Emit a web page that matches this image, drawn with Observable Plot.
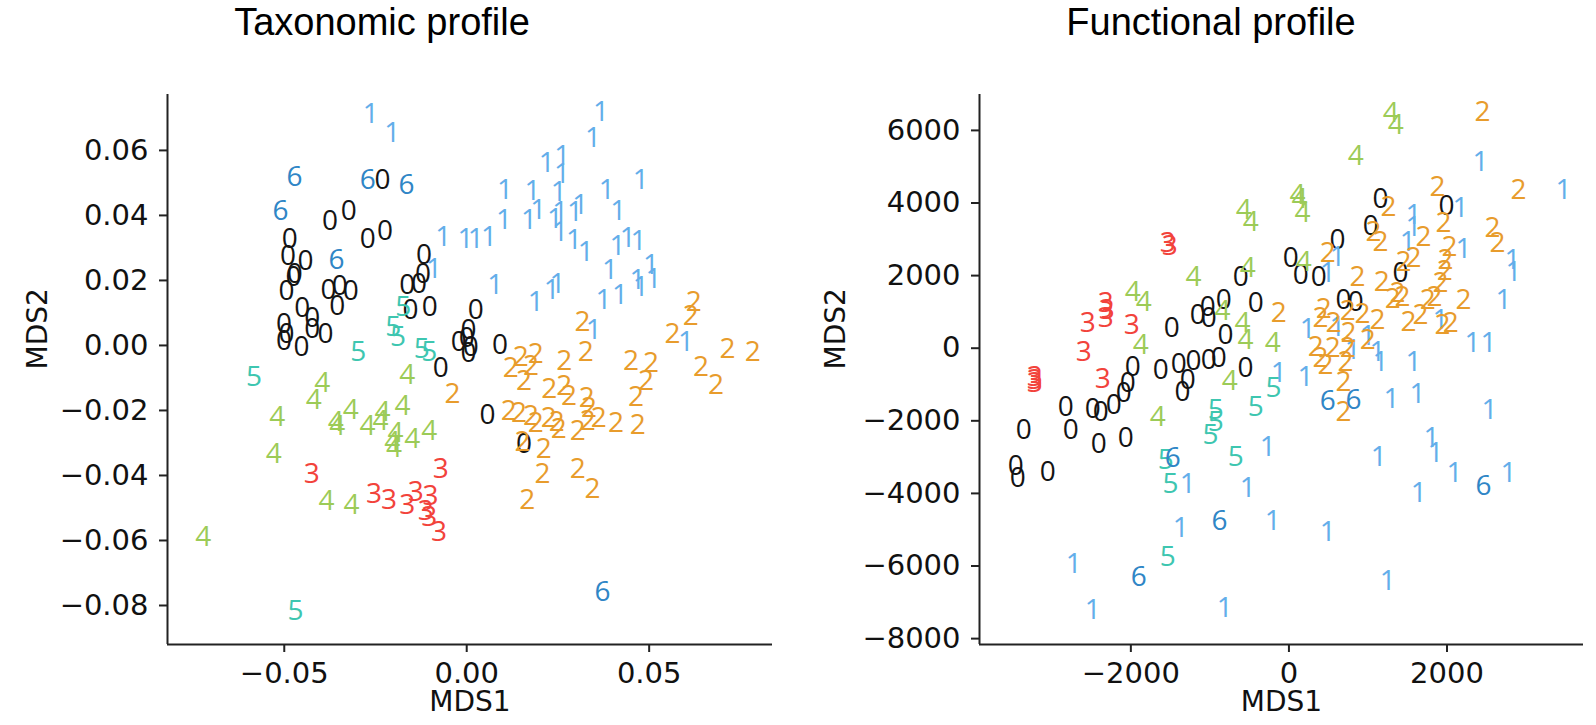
<!DOCTYPE html>
<html><head><meta charset="utf-8">
<script src="https://cdn.jsdelivr.net/npm/d3@7"></script>
<script src="https://cdn.jsdelivr.net/npm/@observablehq/plot@0.6"></script>
<style>
body{margin:0;background:#fff;}
#fig{position:relative;width:1596px;height:725px;overflow:hidden;background:#fff;}
.panel{position:absolute;top:0;}
.title{position:absolute;font-family:"Liberation Sans",Arial,sans-serif;font-size:38px;color:#000;white-space:nowrap;transform:translateX(-50%);line-height:normal;}
</style></head><body>
<div id="fig">
<div class="title" style="left:382px;top:1px">Taxonomic profile</div>
<div class="title" style="left:1211px;top:1px">Functional profile</div>
<div class="panel" id="left" style="left:0px"></div>
<div class="panel" id="right" style="left:800px"></div>
</div>
<script>
// Cluster categories and colours
const categories = ["0", "1", "2", "3", "4", "5", "6"];
const palette = ["#141414", "#63aeea", "#e89c2c", "#f2433b", "#9ccb57", "#3ec6b0", "#2f86c6"];

// Taxonomic profile: [MDS1, MDS2] per cluster
const taxo0 = [[-0.0231,0.0510],[-0.0375,0.0382],[-0.0323,0.0413],[-0.0271,0.0328],[-0.0224,0.0351],[-0.0485,0.0328],[-0.0490,0.0275],[-0.0442,0.0259],[-0.0471,0.0221],[-0.0475,0.0212],[-0.0494,0.0167],[-0.0379,0.0169],[-0.0348,0.0182],[-0.0318,0.0167],[-0.0355,0.0120],[-0.0451,0.0115],[-0.0423,0.0084],[-0.0423,0.0051],[-0.0387,0.0036],[-0.0501,0.0067],[-0.0494,0.0034],[-0.0501,0.0015],[-0.0453,-0.0005],[-0.0117,0.0277],[-0.0120,0.0221],[-0.0131,0.0190],[-0.0163,0.0185],[-0.0154,0.0110],[-0.0101,0.0118],[-0.0071,-0.0071],[0.0025,0.0108],[0.0005,0.0046],[-0.0022,0.0009],[0.0000,0.0022],[0.0011,-0.0006],[0.0005,-0.0022],[0.0091,0.0000],[0.0057,-0.0215],[0.0157,-0.0302]];
const taxo1 = [[-0.0263,0.0713],[-0.0204,0.0653],[0.0368,0.0718],[0.0346,0.0639],[0.0219,0.0561],[0.0262,0.0582],[0.0261,0.0528],[0.0105,0.0477],[0.0180,0.0474],[0.0252,0.0472],[0.0384,0.0477],[0.0477,0.0508],[0.0102,0.0385],[0.0171,0.0387],[0.0196,0.0418],[0.0242,0.0390],[0.0256,0.0410],[0.0256,0.0349],[0.0297,0.0410],[0.0311,0.0431],[0.0415,0.0415],[0.0294,0.0323],[0.0326,0.0287],[-0.0064,0.0335],[-0.0003,0.0328],[0.0025,0.0328],[0.0061,0.0335],[-0.0090,0.0236],[0.0413,0.0305],[0.0441,0.0330],[0.0471,0.0320],[0.0393,0.0233],[0.0078,0.0185],[0.0189,0.0133],[0.0233,0.0169],[0.0249,0.0190],[0.0375,0.0141],[0.0420,0.0154],[0.0468,0.0200],[0.0477,0.0179],[0.0505,0.0246],[0.0512,0.0205],[0.0348,0.0048],[0.0601,0.0010]];
const taxo2 = [[0.0622,0.0133],[0.0614,0.0092],[0.0564,0.0036],[0.0317,0.0072],[0.0326,-0.0021],[0.0267,-0.0049],[0.0189,-0.0025],[0.0148,-0.0037],[0.0121,-0.0068],[0.0176,-0.0062],[0.0450,-0.0049],[0.0505,-0.0055],[0.0642,-0.0065],[0.0715,-0.0010],[0.0784,-0.0021],[0.0683,-0.0123],[0.0491,-0.0108],[0.0464,-0.0160],[-0.0039,-0.0149],[0.0157,-0.0111],[0.0226,-0.0133],[0.0267,-0.0126],[0.0280,-0.0157],[0.0329,-0.0163],[0.0335,-0.0194],[0.0115,-0.0203],[0.0143,-0.0209],[0.0176,-0.0218],[0.0189,-0.0240],[0.0225,-0.0222],[0.0247,-0.0237],[0.0252,-0.0258],[0.0304,-0.0262],[0.0332,-0.0231],[0.0362,-0.0222],[0.0409,-0.0240],[0.0469,-0.0246],[0.0153,-0.0298],[0.0211,-0.0320],[0.0208,-0.0395],[0.0304,-0.0379],[0.0345,-0.0441],[0.0166,-0.0477]];
const taxo3 = [[-0.0425,-0.0395],[-0.0071,-0.0379],[-0.0254,-0.0456],[-0.0213,-0.0477],[-0.0163,-0.0492],[-0.0140,-0.0451],[-0.0099,-0.0462],[-0.0112,-0.0508],[-0.0103,-0.0528],[-0.0076,-0.0574]];
const taxo4 = [[-0.0396,-0.0116],[-0.0419,-0.0169],[-0.0163,-0.0092],[-0.0519,-0.0221],[-0.0318,-0.0198],[-0.0359,-0.0236],[-0.0355,-0.0249],[-0.0272,-0.0249],[-0.0231,-0.0205],[-0.0236,-0.0234],[-0.0176,-0.0185],[-0.0195,-0.0270],[-0.0204,-0.0298],[-0.0199,-0.0315],[-0.0149,-0.0287],[-0.0103,-0.0262],[-0.0529,-0.0333],[-0.0384,-0.0480],[-0.0316,-0.0492],[-0.0722,-0.0588]];
const taxo5 = [[-0.0583,-0.0098],[-0.0469,-0.0818],[-0.0174,0.0118],[-0.0201,0.0056],[-0.0188,0.0026],[-0.0297,-0.0021],[-0.0123,-0.0010],[-0.0103,-0.0021]];
const taxo6 = [[-0.0472,0.0518],[-0.0271,0.0510],[-0.0165,0.0494],[-0.0510,0.0412],[-0.0357,0.0262],[0.0372,-0.0759]];

// Functional profile: [MDS1, MDS2] per cluster
const func0 = [[1160,4097],[1995,3904],[1034,3353],[616,2967],[22,2471],[1413,2058],[148,2003],[376,1948],[-611,1948],[-421,1231],[-826,1314],[-1028,1121],[-1016,818],[-1155,901],[-801,350],[-1977,-532],[-1623,-614],[-1395,-449],[-1206,-366],[-1016,-339],[-889,-284],[-548,-559],[692,1314],[844,1259],[-2040,-973],[-2091,-1248],[-2218,-1579],[-2382,-1771],[-2483,-1689],[-2825,-1634],[-3356,-2267],[-2762,-2267],[-2407,-2626],[-2066,-2488],[-3457,-3232],[-3432,-3590],[-3052,-3424],[-1281,-890],[-1345,-1220],[-1484,543]];
const func1 = [[2425,5116],[3475,4345],[2172,3849],[1577,3656],[1577,3325],[1502,2912],[2210,2719],[616,2499],[490,2058],[2830,2416],[2842,2086],[2716,1314],[1919,763],[237,515],[616,570],[996,322],[1122,-118],[806,-63],[2324,129],[2526,129],[1160,-394],[1577,-394],[-130,-697],[211,-807],[1299,-1413],[1628,-1276],[2539,-1716],[-269,-2736],[1135,-3011],[1805,-2488],[1856,-2901],[2096,-3452],[2779,-3452],[1641,-4003],[-522,-3865],[-206,-4747],[490,-5077],[1249,-6400],[-813,-7144],[-1281,-3728],[-1370,-4940],[-2724,-5932],[-2483,-7226]];
const func2 = [[2450,6494],[1881,4427],[2906,4345],[1261,3876],[1957,3435],[1071,3188],[1160,2912],[2577,3298],[2640,2884],[1704,3050],[490,2609],[2033,2774],[1451,2361],[1577,2471],[1982,2416],[1970,2113],[869,1948],[1173,1810],[1375,1507],[1438,1397],[1312,1342],[1919,1782],[1843,1397],[1755,1314],[2210,1314],[-130,956],[439,1066],[401,818],[565,680],[743,1011],[932,928],[1122,763],[1514,708],[1666,901],[755,405],[996,212],[1944,625],[2046,680],[338,19],[553,-8],[743,-8],[401,-284],[464,-477],[717,-394],[692,-945],[692,-1771]];
const func3 = [[-1534,2884],[-1509,2802],[-2319,1231],[-2306,1039],[-2319,818],[-2546,680],[-1990,625],[-2597,-118],[-3217,-807],[-3217,-890],[-3217,-973],[-2357,-862]];
const func4 = [[1287,6466],[1350,6135],[844,5281],[110,4207],[135,4097],[173,3711],[-573,3794],[-484,3463],[186,2361],[-522,2196],[-1206,1948],[-1977,1535],[-1838,1259],[-1876,74],[-839,1011],[-586,680],[-548,212],[-206,129],[-750,-917],[-1661,-1909]];
const func5 = [[-194,-1110],[-421,-1634],[-927,-1716],[-927,-2047],[-991,-2405],[-674,-3011],[-1560,-3094],[-1497,-3728],[-1534,-5766]];
const func6 = [[490,-1468],[818,-1441],[-1471,-3039],[-877,-4747],[-1901,-6317],[2463,-3783]];

// Axis ticks
const taxoXTicks = [-0.05, 0, 0.05];
const taxoYTicks = [-0.08, -0.06, -0.04, -0.02, 0, 0.02, 0.04, 0.06];
const funcXTicks = [-2000, 0, 2000];
const funcYTicks = [-8000, -6000, -4000, -2000, 0, 2000, 4000, 6000];

function toRows(groups) {
  const rows = [];
  groups.forEach((pts, g) => pts.forEach(([x, y]) => rows.push({x, y, g: categories[g]})));
  return rows;
}

const tickFont = "DejaVu Sans";
const labelFont = "DejaVu Sans";
const glyphFont = "Open Sans";

function panel(cfg) {
  const rows = toRows(cfg.groups);
  return Plot.plot({
    width: cfg.width, height: 725,
    marginLeft: cfg.ml, marginRight: cfg.mr, marginTop: 94, marginBottom: 81,
    x: {domain: cfg.xDomain},
    y: {domain: cfg.yDomain},
    color: {type: "ordinal", domain: categories, range: palette},
    style: {background: "transparent", color: "#000", overflow: "visible"},
    marks: [
      Plot.text(rows, {x: "x", y: "y", text: "g", fill: "g", fontSize: 28, fontFamily: glyphFont}),
      Plot.ruleX([cfg.xDomain[0]], {stroke: "#222", strokeWidth: 2}),
      Plot.ruleY([cfg.yDomain[0]], {stroke: "#222", strokeWidth: 2}),
      Plot.axisX({ticks: cfg.xTicks, tickFormat: cfg.fmt, tickSize: 8, tickPadding: 10, fontSize: 29, fontFamily: tickFont, label: null, strokeWidth: 2, stroke: "#222", fill: "#111"}),
      Plot.axisY({ticks: cfg.yTicks, tickFormat: cfg.fmt, tickSize: 8, tickPadding: 11, fontSize: 29, fontFamily: tickFont, label: null, strokeWidth: 2, stroke: "#222", fill: "#111"}),
      Plot.text(["MDS1"], {frameAnchor: "bottom", dy: 66, fontSize: 28, fontFamily: labelFont, fill: "#111"}),
      Plot.text(["MDS2"], {frameAnchor: "left", dx: cfg.labelDx, rotate: -90, fontSize: 28, fontFamily: labelFont, fill: "#111"})
    ]
  });
}

document.getElementById("left").append(panel({
  groups: [taxo0, taxo1, taxo2, taxo3, taxo4, taxo5, taxo6],
  width: 800, ml: 167, mr: 28,
  xDomain: [-0.082, 0.0838], yDomain: [-0.0920, 0.0772],
  xTicks: taxoXTicks, yTicks: taxoYTicks, fmt: d3.format(".2f"), labelDx: -129
}));
document.getElementById("right").append(panel({
  groups: [func0, func1, func2, func3, func4, func5, func6],
  width: 796, ml: 179, mr: 13,
  xDomain: [-3915, 3727], yDomain: [-8162, 6989],
  xTicks: funcXTicks, yTicks: funcYTicks, fmt: d3.format("d"), labelDx: -143
}));
</script>
</body></html>
